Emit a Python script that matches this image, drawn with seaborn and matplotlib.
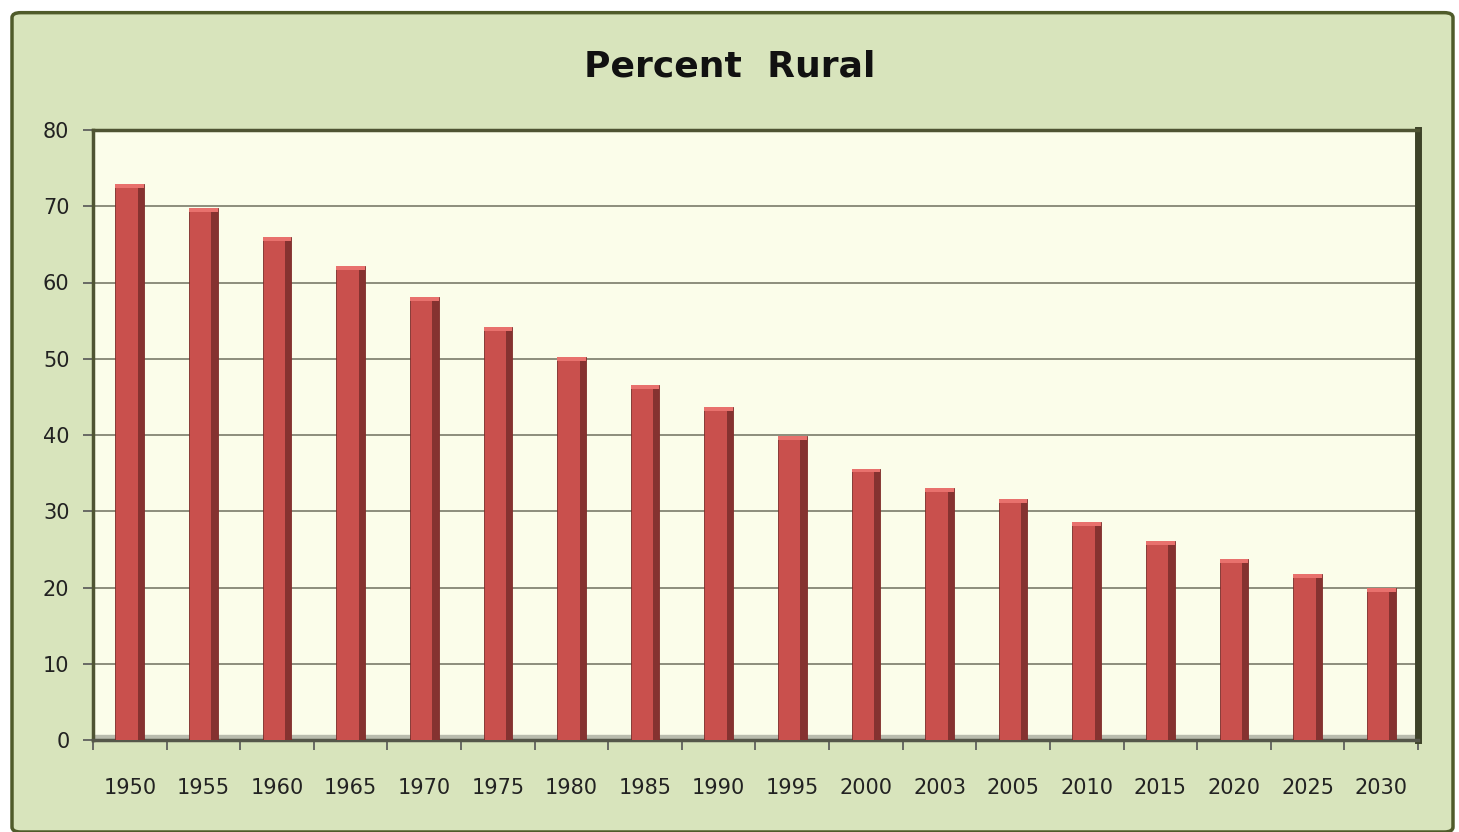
import matplotlib
matplotlib.use("Agg")
import numpy as np
import pandas as pd
import seaborn as sns
import matplotlib.pyplot as plt
from matplotlib.patches import FancyBboxPatch, Rectangle

YEARS = ["1950", "1955", "1960", "1965", "1970", "1975", "1980", "1985", "1990",
         "1995", "2000", "2003", "2005", "2010", "2015", "2020", "2025", "2030"]
RURAL = [72.9, 69.8, 66.0, 62.1, 58.1, 54.2, 50.2, 46.5, 43.7,
         39.9, 35.6, 33.0, 31.6, 28.6, 26.1, 23.7, 21.8, 19.9]

df = pd.DataFrame({"year": YEARS, "rural": RURAL})

sns.set_style("white")
plt.rcParams["font.family"] = ["DejaVu Sans"]

fig = plt.figure(figsize=(14.59, 8.32), dpi=100)
fig.patch.set_facecolor("white")

# outer chart frame
frame = FancyBboxPatch((12 / 1459, 0.0), 1441 / 1459, 1 - 11 / 832 - 0.002,
                       boxstyle="round,pad=0,rounding_size=0.006",
                       transform=fig.transFigure, facecolor="#d8e4bc",
                       edgecolor="#4f5b2a", linewidth=2.5, zorder=-10)
fig.patches.append(frame)

ax = fig.add_axes([93 / 1459, 1 - 740 / 832, (1418 - 93) / 1459, (740 - 130) / 832])
ax.set_zorder(5)
ax.set_facecolor("#fbfdea")

sns.barplot(data=df, x="year", y="rural", color="#c9504d", width=0.39,
            saturation=1, edgecolor="#7a2a28", linewidth=0.6, ax=ax, zorder=3)

# darker right side and light cap of each bar for the bevelled look
for p in list(ax.patches):
    x0, w, h = p.get_x(), p.get_width(), p.get_height()
    ax.add_patch(Rectangle((x0 + w * 0.78, 0), w * 0.22, h, facecolor="#853230",
                           edgecolor="none", zorder=4))
    ax.add_patch(Rectangle((x0, h - 0.5), w, 0.5, facecolor="#e8716d",
                           edgecolor="none", zorder=4))

# grey floor under the bars
ax.axhspan(0, 0.6, color="#b9bcae", zorder=1)

ax.set_ylim(0, 80)
ax.set_xlim(-0.5, len(YEARS) - 0.5)
ax.set_yticks(range(0, 81, 10))
ax.yaxis.grid(True, color="#6f6f5f", linewidth=1.1)
ax.set_axisbelow(True)

ax.set_xticks(np.arange(-0.5, len(YEARS)), minor=True)
ax.tick_params(axis="x", which="major", length=0, pad=27, labelsize=15, colors="#222222")
ax.tick_params(axis="x", which="minor", bottom=True, length=7, width=1.2, color="#555555")
ax.tick_params(axis="y", length=7, width=1.2, color="#555555", labelsize=15,
               labelcolor="#222222", pad=10, left=True)
ax.set_xlabel("")
ax.set_ylabel("")

for side in ["left", "top"]:
    ax.spines[side].set_color("#4f5433")
    ax.spines[side].set_linewidth(2.5)
ax.spines["right"].set_color("#3d4228")
ax.spines["right"].set_linewidth(5)
ax.spines["bottom"].set_color("#55574a")
ax.spines["bottom"].set_linewidth(2.5)

fig.text(0.5, 0.92, "Percent  Rural", ha="center", va="center",
         fontsize=26, fontweight="bold", color="#111111")

fig.savefig("out.png", dpi=100, facecolor=fig.get_facecolor())
